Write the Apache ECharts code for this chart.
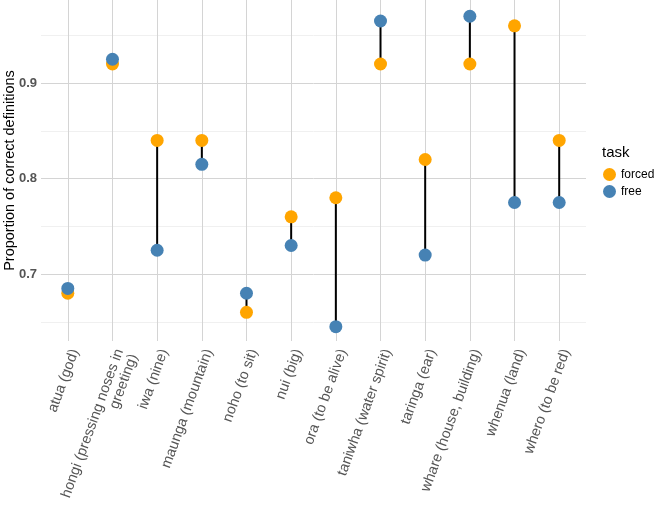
<!DOCTYPE html>
<html>
<head>
<meta charset="utf-8">
<script src="https://cdn.jsdelivr.net/npm/echarts@6/dist/echarts.min.js"></script>
<style>
  html, body { margin: 0; padding: 0; background: #fff; }
  #chart { width: 658px; height: 506px; }
</style>
</head>
<body>
<div id="chart"></div>
<script>
const categories = [
  'atua (god)', 'hongi (pressing noses in\ngreeting)', 'iwa (nine)', 'maunga (mountain)',
  'noho (to sit)', 'nui (big)', 'ora (to be alive)', 'taniwha (water spirit)',
  'taringa (ear)', 'whare (house, building)', 'whenua (land)', 'whero (to be red)'
]
const forced = [0.68, 0.92, 0.84, 0.84, 0.66, 0.76, 0.78, 0.92, 0.82, 0.92, 0.96, 0.84]
const free = [0.685, 0.925, 0.725, 0.815, 0.68, 0.73, 0.645, 0.965, 0.72, 0.97, 0.775, 0.775]
const yMajor = [0.7, 0.8, 0.9]
const yMinor = [0.65, 0.75, 0.85, 0.95]

const chart = echarts.init(document.getElementById('chart'))
const idx = categories.map((c, i) => i)

const gridLines = [
  ...yMinor.map(v => ({ yAxis: v, lineStyle: { color: '#f0f0f0', width: 1, type: 'solid' } })),
  ...yMajor.map(v => ({ yAxis: v, lineStyle: { color: '#d4d4d4', width: 1, type: 'solid' } })),
  ...idx.map(i => ({ xAxis: i, lineStyle: { color: '#d4d4d4', width: 1, type: 'solid' } }))
]

const option = {
  animation: false,
  grid: { left: 41, right: 72, top: 0, bottom: 165, outerBoundsMode: 'none' },
  title: {
    text: 'task',
    left: 597, top: 140,
    textStyle: { fontSize: 15, fontWeight: 'normal', color: '#000', fontFamily: 'Liberation Sans' }
  },
  legend: {
    data: ['forced', 'free'],
    orient: 'vertical',
    left: 598, top: 163,
    icon: 'circle',
    itemWidth: 13, itemHeight: 13, itemGap: 4,
    textStyle: { fontSize: 12, color: '#000', fontFamily: 'Liberation Sans' }
  },
  xAxis: {
    type: 'value',
    min: -0.6, max: 11.6,
    axisLine: { show: false },
    axisTick: { show: false },
    splitLine: { show: false },
    axisLabel: {
      customValues: idx,
      formatter: v => categories[Math.round(v)],
      rotate: 70,
      margin: 6,
      verticalAlign: 'top',
      fontSize: 14.5,
      color: '#555555',
      fontFamily: 'Liberation Sans'
    }
  },
  yAxis: {
    type: 'value',
    min: 0.63, max: 0.987,
    name: 'Proportion of correct definitions',
    nameLocation: 'middle',
    nameRotate: 90,
    nameGap: 24,
    nameMoveOverlap: false,
    nameTextStyle: { fontSize: 14.5, color: '#000', fontFamily: 'Liberation Sans' },
    axisLine: { show: false },
    axisTick: { show: false },
    splitLine: { show: false },
    axisLabel: {
      customValues: yMajor,
      formatter: v => v.toFixed(1),
      margin: 4,
      fontSize: 13,
      fontWeight: 'bold',
      color: '#555555',
      fontFamily: 'Liberation Sans'
    }
  },
  series: [
    {
      name: 'grid',
      type: 'line',
      data: [],
      z: 0,
      markLine: {
        z: 0,
        silent: true,
        symbol: 'none',
        label: { show: false },
        data: gridLines
      }
    },
    {
      name: 'segment',
      type: 'custom',
      z: 5,
      data: idx.map(i => [i, forced[i], free[i]]),
      encode: { x: 0, y: [1, 2] },
      renderItem: (params, api) => {
        const a = api.coord([api.value(0), api.value(1)])
        const b = api.coord([api.value(0), api.value(2)])
        return {
          type: 'line',
          shape: { x1: a[0], y1: a[1], x2: b[0], y2: b[1] },
          style: { stroke: '#000', lineWidth: 2 }
        }
      }
    },
    {
      name: 'forced',
      type: 'scatter',
      z: 6,
      symbolSize: 13,
      itemStyle: { color: '#FFA500', opacity: 1 },
      data: idx.map(i => [i, forced[i]])
    },
    {
      name: 'free',
      type: 'scatter',
      z: 7,
      symbolSize: 13,
      itemStyle: { color: '#4682B4', opacity: 1 },
      data: idx.map(i => [i, free[i]])
    }
  ]
}
chart.setOption(option)
</script>
</body>
</html>
